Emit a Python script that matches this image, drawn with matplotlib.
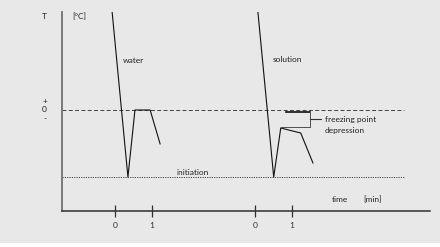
import matplotlib
matplotlib.use("Agg")
import matplotlib.pyplot as plt
from matplotlib.patches import Rectangle

# time in min, temperature in arbitrary degC units (0 = freezing point of water)
water_t = [-0.08, 0.35, 0.54, 0.95, 1.22]
water_T = [8.86, -6.0, 0.0, 0.0, -3.04]

# solution run is plotted on its own time origin further right
sol_offset = 3.78
sol_t = [0.08, 0.51, 0.70, 1.24, 1.57]
sol_T = [8.86, -6.0, -1.61, -2.06, -4.74]

freeze_T = 0.0
initiation_T = -6.0
depression_top = -0.18
depression_bottom = -1.52

tick_pos = [0, 1, sol_offset, sol_offset + 1]
tick_lab = ["0", "1", "0", "1"]

plt.rcParams["font.family"] = ["Lato", "DejaVu Sans"]

fig = plt.figure(figsize=(4.4, 2.47), dpi=100, facecolor="#e8e8e8")
fig.patches.append(Rectangle((0, 0), 1, 4 / 247, transform=fig.transFigure,
                             facecolor="white", edgecolor="none"))
ax = fig.add_axes([62 / 440, 36 / 247, 368 / 440, 199 / 247])
ax.set_facecolor("none")
ax.set_xlim(-1.432, 8.514)
ax.set_ylim(-9.04, 8.77)

for s in ["top", "right"]:
    ax.spines[s].set_visible(False)
ax.spines["left"].set_color("#707070")
ax.spines["left"].set_linewidth(1.3)
ax.spines["bottom"].set_color("#303030")
ax.spines["bottom"].set_linewidth(1.1)

ax.set_yticks([])
ax.set_xticks(tick_pos)
ax.set_xticklabels(tick_lab)
ax.tick_params(axis="x", direction="inout", length=8, width=0.9,
               color="#303030", labelsize=6, labelcolor="#303030", pad=4)

# reference lines
ax.axhline(freeze_T, xmin=0, xmax=0.93, color="#404040", lw=0.7,
           ls=(0, (4, 2.5)))
ax.axhline(initiation_T, xmin=0, xmax=0.93, color="#404040", lw=0.7,
           ls=(0, (1.2, 1.2)))

# curves
ax.plot(water_t, water_T, color="#111111", lw=0.8)
ax.plot([t + sol_offset for t in sol_t], sol_T, color="#111111", lw=0.8)

# freezing point depression bracket
bx = sol_offset + 1.49
ax.plot([sol_offset + 0.84, bx], [depression_top, depression_top],
        color="#111111", lw=1.2)
ax.plot([sol_t[2] + sol_offset, bx], [depression_bottom, depression_bottom],
        color="#505050", lw=0.7)
ax.plot([bx, bx], [depression_top, depression_bottom], color="#505050", lw=0.7)
mid = (depression_top + depression_bottom) / 2
ax.plot([bx, bx + 0.3], [mid, mid], color="#303030", lw=0.8)

tc = "#222222"
fs = 6
ax.text(bx + 0.4, mid, "freezing point", fontsize=fs, color=tc, va="center")
ax.text(bx + 0.4, mid - 1.0, "depression", fontsize=fs, color=tc, va="center")
ax.text(0.22, 4.4, "water", fontsize=fs, color=tc, va="center")
ax.text(sol_offset + 0.48, 4.5, "solution", fontsize=fs, color=tc, va="center")
ax.text(1.65, -5.55, "initiation", fontsize=fs, color=tc, va="center")
ax.text(5.85, -8.05, "time", fontsize=fs, color=tc, va="center")
ax.text(6.7, -8.05, "[min]", fontsize=fs, color=tc, va="center")

ax.text(-1.16, 8.4, "[°C]", fontsize=fs, color=tc, va="center")
ax.text(-1.90, 8.4, "T", fontsize=fs, color=tc, va="center", ha="center")
ax.text(-1.90, 0.8, "+", fontsize=fs, color=tc, va="center", ha="center")
ax.text(-1.90, 0.05, "0", fontsize=fs, color=tc, va="center", ha="center")
ax.text(-1.90, -0.75, "-", fontsize=fs, color=tc, va="center", ha="center")

fig.savefig("out.png", dpi=100, facecolor=fig.get_facecolor())
